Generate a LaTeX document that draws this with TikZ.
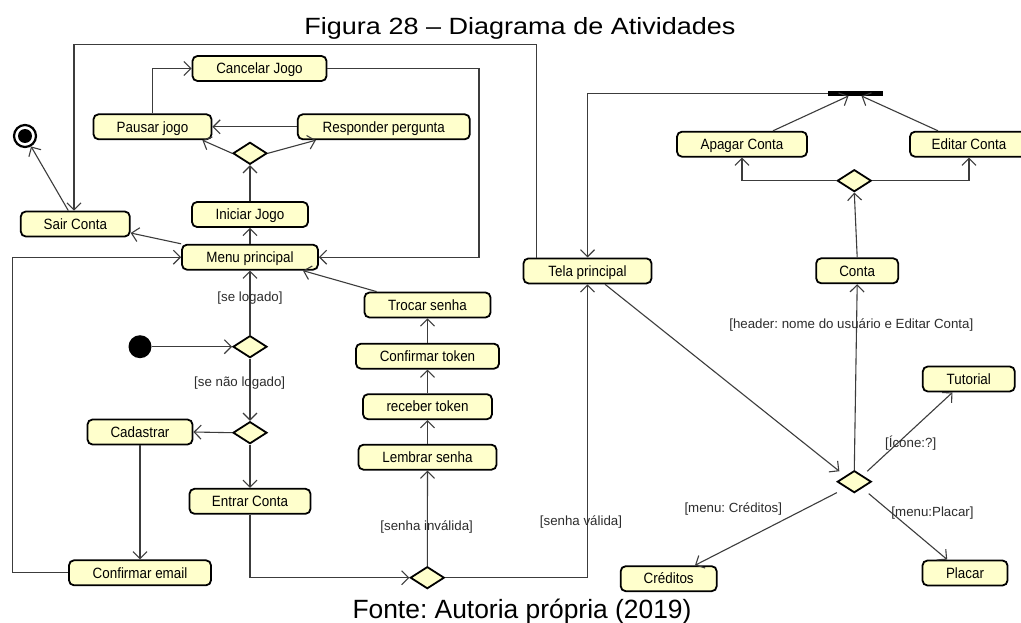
\documentclass[tikz,border=0pt]{standalone}
\usepackage{fontspec}
\setmainfont{Liberation Sans}
\newfontfamily\boxfont[FakeStretch=0.9]{Liberation Sans}
\newfontfamily\titlefont[FakeStretch=1.15]{Liberation Sans}
\usetikzlibrary{arrows.meta,shapes.geometric}
\definecolor{actfill}{RGB}{255,255,204}
\definecolor{edgecol}{RGB}{60,60,60}
\definecolor{guardtext}{RGB}{45,45,45}
\frenchspacing

\begin{document}
\begin{tikzpicture}[x=1pt,y=-1pt,
  act/.style={draw=black,line width=1.8pt,fill=actfill,rounded corners=5pt,inner sep=0pt,
    minimum height=25pt,text height=11pt,text depth=0.5pt,
    font=\boxfont\fontsize{14.9}{16}\selectfont},
  dec/.style={diamond,draw=black,line width=1.8pt,fill=actfill,inner sep=0pt,
    minimum width=34pt,minimum height=22pt,aspect=1.545},
  flow/.style={draw=edgecol,line width=1.1pt,-{Straight Barb[length=7pt,width=14pt,line width=1.1pt]}},
  guard/.style={text=guardtext,inner sep=0pt,font=\fontsize{13.3}{15}\selectfont}
]
\fill[white] (0,0) rectangle (1021,623);
\useasboundingbox (0,0) rectangle (1021,623);

% caption lines
\node[font=\titlefont\fontsize{23.5}{28}\selectfont,anchor=base,inner sep=0pt] (title) at (520,35) {Figura 28 – Diagrama de Atividades};
\node[font=\fontsize{26.4}{30}\selectfont,anchor=base,inner sep=0pt] (fonte) at (522,618) {Fonte: Autoria própria (2019)};

% start / end
\node[circle,fill=black,minimum size=23pt,inner sep=0pt] (init) at (140,346.7) {};
\node[circle,draw=black,line width=2.2pt,fill=white,minimum size=22pt,inner sep=0pt] (final) at (25,136) {};
\node[circle,fill=black,minimum size=14pt,inner sep=0pt] (finaldot) at (final) {};

% game activities
\node[act,minimum width=134pt] (cancelar) at (259.5,68.5) {Cancelar Jogo};
\node[act,minimum width=118pt] (pausar) at (152.5,126.8) {Pausar jogo};
\node[act,minimum width=172pt] (resp) at (383.8,126.8) {Responder pergunta};
\node[dec] (d1) at (250,153.3) {};
\node[act,minimum width=116pt] (iniciar) at (250,214.5) {Iniciar Jogo};
\node[act,minimum width=136pt] (menu) at (250,257.2) {Menu principal};
\node[act,minimum width=109pt] (sair) at (75.3,224) {Sair Conta};

% login
\node[dec] (d2) at (250,346.7) {};
\node[dec] (d3) at (250,432.7) {};
\node[act,minimum width=105pt] (cad) at (140,432) {Cadastrar};
\node[act,minimum width=121pt] (entrar) at (250,501.3) {Entrar Conta};
\node[act,minimum width=142pt] (confemail) at (140,572.8) {Confirmar email};
\node[dec] (d4) at (427.3,577.7) {};

% password recovery
\node[act,minimum width=138pt] (lembrar) at (427.5,457.2) {Lembrar senha};
\node[act,minimum width=129pt] (receber) at (427.5,406.7) {receber token};
\node[act,minimum width=143pt] (conftoken) at (427.5,356.2) {Confirmar token};
\node[act,minimum width=126pt] (trocar) at (427.5,305) {Trocar senha};

% main screen and account
\node[act,minimum width=128pt] (tela) at (587.5,270.9) {Tela principal};
\node[act,minimum width=82pt] (conta) at (857.2,270.8) {Conta};
\node[dec] (d5) at (854.3,481.7) {};
\node[dec] (d6) at (854.3,180.7) {};
\node[act,minimum width=130pt] (apagar) at (742,144.2) {Apagar Conta};
\node[act,minimum width=118pt] (editar) at (969,144.2) {Editar Conta};
\node[fill=black,minimum width=55.6pt,minimum height=5pt,inner sep=0pt] (bar) at (855.5,93.3) {};
\node[act,minimum width=92pt] (tutorial) at (968.8,379) {Tutorial};
\node[act,minimum width=85pt] (placar) at (965,573) {Placar};
\node[act,minimum width=96pt] (creditos) at (668.7,578.7) {Créditos};

% routing corners
\coordinate (topL) at (74,44.3);
\coordinate (rc) at (479,0);
\coordinate (lc) at (12.7,0);

% game flows
\draw[flow] ([xshift=-7pt]sair.north) -- (final);
\draw[flow] ([xshift=-51pt]tela.north) |- (topL) -- (topL |- sair.north);
\draw[flow] (pausar.north) |- (cancelar.west);
\draw[flow] (cancelar.east) -| (rc |- menu.east) -- (menu.east);
\draw[flow] (resp.west) -- (pausar.east);
\draw[flow] (d1.west) -- ([xshift=-10pt]pausar.south east);
\draw[flow] (d1.east) -- ([xshift=19pt]resp.south west);
\draw[flow] (iniciar.north) -- (d1.south);
\draw[flow] (menu.north) -- (iniciar.south);
\draw[flow] (menu.north west) -- ([yshift=-9pt]sair.east);

% login flows
\draw[flow] (confemail.west) -| (lc |- menu.west) -- (menu.west);
\draw[flow] (d2.north) -- (menu.south);
\draw[flow] (init) -- (d2.west);
\draw[flow] (d2.south) -- (d3.north);
\draw[flow] (d3.west) -- (cad.east);
\draw[flow] (d3.south) -- (entrar.north);
\draw[flow] (cad.south) -- (confemail.north);
\draw[flow] (entrar.south) |- (d4.west);

% recovery flows
\draw[flow] (d4.north) -- (lembrar.south);
\draw[flow] (lembrar.north) -- (receber.south);
\draw[flow] (receber.north) -- (conftoken.south);
\draw[flow] (conftoken.north) -- (trocar.south);
\draw[flow] ([xshift=13pt]trocar.north west) -- ([xshift=-16pt]menu.south east);
\draw[flow] (d4.east) -| (tela.south);

% main screen flows
\draw[flow] (bar.west) -| (tela.north);
\draw[flow] ([xshift=31pt]apagar.north) -- ([xshift=-7pt]bar.south);
\draw[flow] ([xshift=-31pt]editar.north) -- ([xshift=6pt]bar.south);
\draw[flow] (d6.west) -| (apagar.south);
\draw[flow] (d6.east) -| (editar.south);
\draw[flow] (conta.north) -- (d6.south);
\draw[flow] ([xshift=17.5pt]tela.south) -- ([xshift=-6pt,yshift=4.5pt]d5.north west);
\draw[flow] (d5.north) -- (conta.south);
\draw[flow] ([xshift=4pt,yshift=4.5pt]d5.north east) -- ([xshift=30.6pt]tutorial.south west);
\draw[flow] ([xshift=5.5pt,yshift=-6pt]d5.south east) -- ([xshift=25.6pt]placar.north west);
\draw[flow] ([xshift=-8.5pt,yshift=-5pt]d5.south west) -- ([xshift=26.3pt]creditos.north);

% guards
\node[guard] (g1) at (250,297.7) {[se logado]};
\node[guard] (g2) at (239.7,382.7) {[se não logado]};
\node[guard] (g3) at (426.7,527.3) {[senha inválida]};
\node[guard] (g4) at (581,521.7) {[senha válida]};
\node[guard] (g5) at (851.3,325) {[header: nome do usuário e Editar Conta]};
\node[guard] (g6) at (910.7,443.3) {[Ícone:?]};
\node[guard] (g7) at (932.5,513.3) {[menu:Placar]};
\node[guard] (g8) at (733.3,509.3) {[menu: Créditos]};
\end{tikzpicture}
\end{document}
